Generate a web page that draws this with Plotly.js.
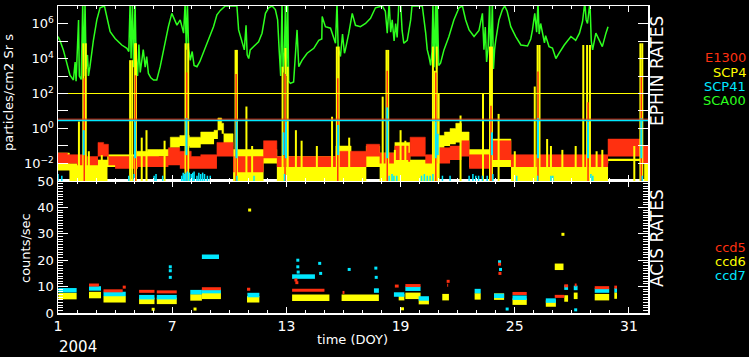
<!DOCTYPE html>
<html><head><meta charset="utf-8">
<script src="https://cdn.plot.ly/plotly-3.0.1.min.js"></script>
<style>html,body{margin:0;padding:0;background:#000;}#chart{width:749px;height:357px;}</style>
</head><body><div id="chart"></div>
<script>
// ---------- EPHIN rates (top panel) ----------
const sca00Days = [1.00,1.10,1.28,1.46,1.63,1.81,1.90,1.95,2.08,2.12,2.22,2.30,2.36,2.42,2.48,2.55,2.60,2.68,2.86,3.04,3.21,3.44,3.61,3.74,4.00,4.35,4.62,4.72,4.79,4.84,4.91,4.97,5.05,5.10,5.18,5.25,5.32,5.40,5.48,5.58,5.66,5.75,5.88,6.02,6.19,6.37,6.54,6.80,6.98,7.06,7.25,7.42,7.60,7.68,7.74,7.80,7.86,7.95,8.05,8.15,8.30,8.45,8.65,8.91,9.17,9.35,9.53,9.79,10.40,10.49,10.67,10.79,10.88,10.94,11.02,11.10,11.28,11.54,11.72,11.90,12.07,12.25,12.42,12.54,12.62,12.70,12.77,12.83,12.90,12.95,13.01,13.07,13.12,13.21,13.38,13.47,13.56,13.65,13.82,14.09,14.44,14.70,14.86,14.88,15.05,15.32,15.58,15.66,15.72,15.84,15.95,16.05,16.10,16.28,16.46,16.63,16.89,17.16,17.42,17.68,18.04,18.20,18.30,18.40,18.48,18.56,18.66,18.74,18.82,18.91,19.00,19.08,19.17,19.35,19.53,19.60,20.14,20.32,20.40,20.49,20.58,20.65,20.70,20.76,20.84,20.89,20.93,21.00,21.10,21.28,21.54,21.80,22.07,22.25,22.42,22.60,22.86,23.12,23.30,23.38,23.45,23.52,23.60,23.68,23.74,23.82,23.88,23.94,24.00,24.17,24.35,24.47,24.60,24.79,25.05,25.32,25.67,25.84,25.93,26.05,26.15,26.22,26.28,26.36,26.46,26.56,26.62,26.80,26.98,27.16,27.33,27.60,27.95,28.20,28.40,28.56,28.68,28.75,28.82,28.95,29.02,29.09,29.26,29.44,29.60,29.79,29.90];
const sca00Vals = [1.8e5,1.1e5,3.1e4,5.4e3,1.1e3,590,6.3e3,500,1.6e6,1e3,630,1.6e7,1e3,1.6e7,2.5e3,1.6e4,1e3,3.4e3,1.1e5,1.6e6,7.9e6,1e7,1.6e6,3.4e5,1.4e5,5.9e4,3.8e4,2.5e4,1.6e7,1e4,1.6e7,3.2e3,1.6e7,1.6e4,1e3,6.3e4,1.6e3,5.4e3,3.2e4,3.2e3,1.3e4,1.4e3,790,590,590,3.4e3,3.1e4,6.6e5,3.8e6,2.5e6,8.1e5,1.6e6,2.8e5,1.6e7,3.2e4,1.6e7,4e4,7.9e3,2.5e4,4e3,3.4e3,6.6e3,2.5e4,1.1e5,6.6e5,3.1e6,5.6e6,1e7,1e7,4.3e5,7.4e4,3.1e4,7.9e5,1.6e4,1e4,3.1e4,4.8e4,9.1e4,2.8e5,3.8e6,7.9e6,1e7,6.3e6,1.6e6,3.2e4,1e3,1.6e7,1.6e3,2.5e4,1.6e7,1e3,1.6e7,500,380,450,3.1e4,4.3e5,3.4e3,7.9e3,2e4,3.8e4,1.1e5,1.3e5,2.5e6,6.6e5,5.4e5,7.4e4,1.6e7,4e4,1.3e4,2.5e5,2e4,3.2e4,2.8e5,3.8e6,7.9e5,6.6e5,1e6,2e6,7.9e6,1e7,5e6,2.8e5,1.6e7,3.2e5,1.6e6,1e5,1e6,1.6e5,1.6e7,1.6e7,4e5,7.4e4,1.1e5,1.6e6,1e7,1e7,2.8e5,3.2e4,1.3e4,4e3,2.5e4,1.6e7,3.2e3,1.6e7,2.5e3,1.6e7,4e3,5.4e3,3.1e4,1.8e5,1.6e6,7.9e6,1e7,1.6e6,4.3e5,1.8e5,4e5,3.8e6,3.2e4,6.3e5,6.3e3,4e4,1.6e7,4e3,1.6e7,2.5e3,3.2e4,1.1e5,1.6e6,6.3e6,1e7,5e6,6.6e5,1.8e5,5.9e4,5.2e4,1.3e5,4.3e5,3.8e6,3.2e5,1.6e7,2.5e5,1e6,2.8e5,7.9e4,2e5,4.8e4,4e4,1e4,2e4,5.9e4,1.8e5,1.1e5,2.8e5,1.3e6,1.6e7,1.6e6,1e6,1.6e7,1e5,3.1e4,2.8e5,1.1e5,4.8e4,2.8e5,6.6e5];

// E1300 quiet-time band (lower / upper envelope)
const e1300Days = [1.0,1.5,2.0,2.5,3.1,3.4,3.65,4.0,5.2,6.8,7.4,8.0,8.5,9.35,10.2,11.8,12.5,15.6,16.4,17.2,17.9,18.7,19.4,19.5,20.3,21.0,21.6,22.2,22.6,23.7,24.8,29.9,31.7,32.0];
const e1300Lo = [0.01,0.01,0.0079,0.0079,0.025,0.025,0.0079,0.005,0.0063,0.0079,0.005,0.005,0.005,0.025,0.0032,0.02,0.0063,0.0063,0.0063,0.025,0.01,0.016,0.0126,0.025,0.01,0.01,0.016,0.025,0.005,0.016,0.0063,0.025,0.01,0.01];
const e1300Hi = [0.04,0.032,0.032,0.025,0.16,0.126,0.025,0.025,0.025,0.079,0.05,0.025,0.032,0.16,0.025,0.2,0.025,0.05,0.05,0.126,0.04,0.1,0.04,0.32,0.032,0.079,0.1,0.2,0.032,0.2,0.032,0.25,0.1,0.1];
const e1300SpikeDays = [2.38,5.07,7.76,10.36,12.93,15.70,18.30,20.85,23.75,26.22,28.85,31.65];
const e1300SpikePeaks = [740,1100,1600,1300,1300,740,2000,1600,20,1800,32,1000];

// SCP4 quiet-time band
const scp4Days = [1.0,1.6,3.0,3.6,5.1,5.7,6.3,6.9,7.4,7.9,8.5,9.2,9.4,9.6,9.7,10.2,11.8,12.5,15.6,16.4,17.2,17.9,18.7,19.5,21.0,21.3,21.6,21.9,22.2,22.6,23.7,24.8,26.4,28.5,29.9,31.8,32.0];
const scp4Lo = [0.004,5e-4,5e-4,0.0063,0.016,0.02,0.025,0.079,0.1,0.079,0.126,0.25,0.79,0.5,0.1,5e-4,0.01,5e-4,5e-4,5e-4,0.0063,5e-4,5e-4,5e-4,0.079,0.1,0.126,0.16,0.032,0.0063,0.0063,5e-4,5e-4,5e-4,0.014,5e-4,5e-4];
const scp4Hi = [0.04,0.01,0.016,0.032,0.05,0.063,0.063,0.32,0.4,0.32,0.63,0.79,4.0,2.0,0.5,0.063,0.063,0.025,0.1,0.04,0.1,0.04,0.16,0.016,0.4,0.63,1.0,2.0,0.63,0.063,0.25,0.01,0.016,0.01,0.018,0.01,0.01];
const scp4SpikeDays = [2.10,2.33,2.46,2.62,3.3,4.79,4.90,5.05,5.10,5.4,5.65,6.6,7.70,7.84,10.33,10.40,10.90,11.2,12.80,12.95,13.07,13.50,13.8,14.6,15.40,15.65,15.75,16.3,18.06,18.26,18.35,18.70,19.00,19.25,20.70,20.80,20.90,21.00,22.15,23.33,23.70,23.80,24.15,25.0,26.05,26.20,26.30,26.70,26.90,27.5,28.2,28.60,28.80,28.95,29.3,29.6,31.28,31.60,31.70];
const scp4SpikePeaks = [2.5,7.4e4,7.4e4,0.05,0.03,8e3,8e3,7.4e4,7.4e4,0.3,0.8,0.2,7.4e4,7.4e4,3.1e4,3.1e4,18,0.1,3.4e3,4e4,3.4e3,0.8,0.2,0.1,4.7,4.8e4,4.8e4,0.3,66,3.1e4,3.1e4,0.06,0.8,0.2,4.8e4,2e3,4.8e4,100,5.5,100,4.8e4,4.8e4,6.8,0.05,250,5.9e4,5.9e4,0.25,0.1,0.06,0.1,5.9e4,5.9e4,5.9e4,0.05,0.06,0.1,7.4e4,7.4e4];

// SCP41
const scp41SpikeDays = [2.35,5.05,7.75,10.38,12.85,12.98,15.72,18.30,20.85,20.95,23.80,26.22,28.85,31.65];
const scp41SpikeLows = [0.03,0.02,0.03,0.02,0.03,0.02,0.03,0.02,0.02,0.03,0.03,0.02,0.02,0.02];
const scp41SpikePeaks = [0.8,2.5,4,2.5,0.6,2.5,1.6,16,2.5,0.5,0.6,4,2.5,4];
const scp41LowDays = [1.0,1.2,4.72,5.0,6.05,6.15,6.5,7.5,7.58,7.65,7.72,7.8,7.9,8.0,8.08,8.15,8.3,8.4,8.5,8.6,8.7,8.85,9.0,10.4,11.3,12.9,18.4,18.55,18.65,18.8,20.1,20.25,20.4,20.55,20.7,21.2,21.6,22.6,22.8,22.95,23.1,23.3,23.55,23.85,25.1,26.2,26.9,27.0,29.0,29.1,31.7];
const scp41LowVals = [0.0025,0.002,0.002,0.0025,0.002,0.0025,0.002,0.002,0.003,0.0025,0.003,0.0035,0.003,0.0025,0.003,0.0035,0.002,0.003,0.0025,0.003,0.0025,0.002,0.002,0.002,0.002,0.0025,0.002,0.0025,0.002,0.002,0.002,0.0025,0.002,0.002,0.0025,0.002,0.002,0.002,0.0025,0.002,0.002,0.002,0.002,0.0025,0.002,0.002,0.002,0.002,0.0025,0.002,0.002];

// limit lines
const limitVals = [100, 3.4, 2.9];

// ---------- ACIS rates (bottom panel) ----------
const ccd5Start = [2.63,3.39,4.40,5.26,6.19,8.56,10.93,13.3,15.95,18.7,19.25,21.45,24.88,27.1,27.6,28.15,29.2,30.23];
const ccd5End   = [3.15,4.40,4.56,6.07,7.24,9.56,11.1,15.0,16.05,18.9,20.05,21.5,25.63,27.6,27.8,28.25,29.96,30.37];
const ccd5Rate  = [10.6,8.4,9.8,8.2,8.0,9.2,9.0,8.6,7.8,10.2,10.4,10.5,7.4,6.3,10.3,10.6,9.6,9.8];
const ccd6Start = [1.02,2.63,3.39,5.26,6.19,7.95,8.56,10.93,13.3,15.9,18.9,19.25,19.95,21.19,22.89,23.91,24.88,26.63,27.1,27.6,28.1,29.2,30.23];
const ccd6End   = [1.98,3.26,4.56,6.07,7.24,8.56,9.56,11.58,15.26,17.86,19.2,20.05,20.49,21.54,23.21,24.44,25.63,27.16,27.56,27.8,28.3,29.96,30.37];
const ccd6Rate  = [6.4,6.8,5.2,4.6,4.6,5.9,6.5,5.2,5.8,5.8,6.0,6.5,4.5,6.0,6.3,6.2,4.3,3.6,17.5,5.5,6.5,6.0,6.6];
const ccd7Start = [1.02,2.63,3.39,5.26,6.19,7.95,8.56,8.56,10.95,13.3,17.6,18.65,19.25,19.95,22.89,23.91,24.88,26.63,27.6,28.1,29.2,30.23];
const ccd7End   = [1.98,3.26,4.56,6.07,7.24,8.56,9.56,9.46,11.58,14.5,17.86,19.2,20.05,20.49,23.21,24.44,25.63,27.16,27.8,28.3,29.96,30.37];
const ccd7Rate  = [8.6,9.3,7.2,6.0,6.0,7.9,8.3,21.3,6.8,13.8,8.5,7.0,9.2,5.5,8.3,6.5,5.8,4.7,9.6,9.5,8.5,8.6];
const ccd5DotDays = [13.5,13.55,24.2,24.22,21.5];
const ccd5DotRates = [12.5,11.5,18.5,15.0,12.0];
const ccd6DotDays = [11.07,27.53,6.0,8.2,19.1];
const ccd6DotRates = [39,29.8,1.4,1.5,1.6];
const ccd7DotDays = [6.9,6.9,6.9,13.6,13.6,13.62,14.75,14.8,16.3,17.7,17.72,24.2,24.25,24.6,28.2];
const ccd7DotRates = [17.5,16.0,13.5,20.0,17.5,15.5,18.8,15.0,16.5,17.0,13.5,19.4,16.5,1.5,1.2];

const RED='#ff3010', YEL='#ffff00', CYA='#00e8ff', GRN='#2dff1e';
const FONT='DejaVu Sans';

function spikes(days, lows, peaks){
  const x=[],y=[];
  days.forEach((d,i)=>{x.push(d,d,null);y.push(Array.isArray(lows)?lows[i]:lows,peaks[i],null);});
  return {x,y};
}
function segs(st,en,v){
  const x=[],y=[];
  st.forEach((s,i)=>{x.push(s,en[i],null);y.push(v[i],v[i],null);});
  return {x,y};
}
const T={xaxis:'x2',yaxis:'y',mode:'lines',hoverinfo:'skip',showlegend:false};
const traces=[];
traces.push(Object.assign({},T,{x:sca00Days,y:sca00Vals,line:{color:GRN,width:1.5}}));
traces.push(Object.assign({},T,{x:scp4Days,y:scp4Lo,line:{color:YEL,width:0,shape:'hv'}}));
traces.push(Object.assign({},T,{x:scp4Days,y:scp4Hi,line:{color:YEL,width:0.5,shape:'hv'},fill:'tonexty',fillcolor:YEL}));
traces.push(Object.assign({},T,{x:e1300Days,y:e1300Lo,line:{color:RED,width:0,shape:'hv'}}));
traces.push(Object.assign({},T,{x:e1300Days,y:e1300Hi,line:{color:RED,width:0.5,shape:'hv'},fill:'tonexty',fillcolor:RED}));
let s=spikes(scp4SpikeDays,1e-4,scp4SpikePeaks);
traces.push(Object.assign({},T,{x:s.x,y:s.y,line:{color:YEL,width:2}}));
s=spikes(e1300SpikeDays,1e-4,e1300SpikePeaks);
traces.push(Object.assign({},T,{x:s.x,y:s.y,line:{color:RED,width:1.5}}));
s=spikes(scp41SpikeDays,scp41SpikeLows,scp41SpikePeaks);
traces.push(Object.assign({},T,{x:s.x,y:s.y,line:{color:CYA,width:2}}));
s=spikes(scp41LowDays,1e-4,scp41LowVals);
traces.push(Object.assign({},T,{x:s.x,y:s.y,line:{color:CYA,width:1.5}}));
const limCols=[YEL,RED,CYA];
limitVals.forEach((v,i)=>traces.push(Object.assign({},T,{x:[1,32],y:[v,v],line:{color:limCols[i],width:i===2?1.5:1}})));

const B={xaxis:'x',yaxis:'y2',mode:'lines',hoverinfo:'skip',showlegend:false};
s=segs(ccd6Start,ccd6End,ccd6Rate); traces.push(Object.assign({},B,{x:s.x,y:s.y,line:{color:YEL,width:6.5}}));
s=segs(ccd7Start,ccd7End,ccd7Rate); traces.push(Object.assign({},B,{x:s.x,y:s.y,line:{color:CYA,width:4.5}}));
s=segs(ccd5Start,ccd5End,ccd5Rate); traces.push(Object.assign({},B,{x:s.x,y:s.y,line:{color:RED,width:3}}));
traces.push(Object.assign({},B,{mode:'markers',x:ccd6DotDays,y:ccd6DotRates,marker:{color:YEL,size:3,symbol:'square'}}));
traces.push(Object.assign({},B,{mode:'markers',x:ccd7DotDays,y:ccd7DotRates,marker:{color:CYA,size:3,symbol:'square'}}));
traces.push(Object.assign({},B,{mode:'markers',x:ccd5DotDays,y:ccd5DotRates,marker:{color:RED,size:3,symbol:'square'}}));

const ax={showgrid:false,zeroline:false,showline:true,linecolor:'#fff',linewidth:1.5,ticks:'inside',tickcolor:'#fff',tickwidth:1,mirror:'ticks',tickfont:{family:FONT,size:13,color:'#fff'}};
const xbase=Object.assign({},ax,{range:[1,32],tickmode:'linear',tick0:1,dtick:6,ticklen:6,minor:{tick0:1,dtick:1,ticklen:3,ticks:'inside',tickcolor:'#fff'}});
const P=(px)=>(px-58)/590, Q=(py)=>(313-py)/307;
const ann=(text,px,py,opt)=>Object.assign({text,xref:'paper',yref:'paper',x:P(px),y:Q(py),xanchor:'center',yanchor:'middle',showarrow:false,font:{family:FONT,size:13,color:'#fff'}},opt||{});
const layout={
  width:749,height:357,paper_bgcolor:'#000',plot_bgcolor:'#000',
  margin:{l:58,r:101,t:6,b:44},showlegend:false,
  xaxis:Object.assign({},xbase,{anchor:'y2',tickfont:{family:FONT,size:14,color:'#fff'}}),
  xaxis2:Object.assign({},xbase,{anchor:'y',showticklabels:false,matches:'x'}),
  yaxis:Object.assign({},ax,{domain:[0.43,1],type:'log',range:[-3,7],tickmode:'array',
    tickvals:[1e-2,1,100,1e4,1e6],
    ticktext:['10<sup>−2</sup>','10<sup>0</sup>','10<sup>2</sup>','10<sup>4</sup>','10<sup>6</sup>'],ticklen:10,
    minor:{dtick:1,ticklen:10,ticks:'inside',tickcolor:'#fff'}}),
  yaxis2:Object.assign({},ax,{domain:[0,0.43],range:[0,50],tickmode:'linear',tick0:0,dtick:10,ticklen:10,
    minor:{tick0:0,dtick:1,ticklen:5,ticks:'inside',tickcolor:'#fff'}}),
  annotations:[
    ann('particles/cm2 Sr s',8,93,{textangle:-90}),
    ann('counts/sec',25,248,{textangle:-90}),
    ann('EPHIN RATES',657,71,{textangle:-90,font:{family:FONT,size:17,color:'#fff'}}),
    ann('ACIS RATES',657,238,{textangle:-90,font:{family:FONT,size:17,color:'#fff'}}),
    ann('E1300',748,58,{xanchor:'right',font:{family:FONT,size:13,color:RED}}),
    ann('SCP4',748,72,{xanchor:'right',font:{family:FONT,size:13,color:YEL}}),
    ann('SCP41',748,86,{xanchor:'right',font:{family:FONT,size:13,color:CYA}}),
    ann('SCA00',748,100,{xanchor:'right',font:{family:FONT,size:13,color:GRN}}),
    ann('ccd5',748,247,{xanchor:'right',font:{family:FONT,size:13,color:RED}}),
    ann('ccd6',748,261,{xanchor:'right',font:{family:FONT,size:13,color:YEL}}),
    ann('ccd7',748,275,{xanchor:'right',font:{family:FONT,size:13,color:CYA}}),
    ann('2004',57,347,{xanchor:'left',font:{family:FONT,size:15,color:'#fff'}}),
    ann('time (DOY)',352,339)
  ]
};
Plotly.newPlot('chart',traces,layout,{staticPlot:true,displayModeBar:false});
</script></body></html>
